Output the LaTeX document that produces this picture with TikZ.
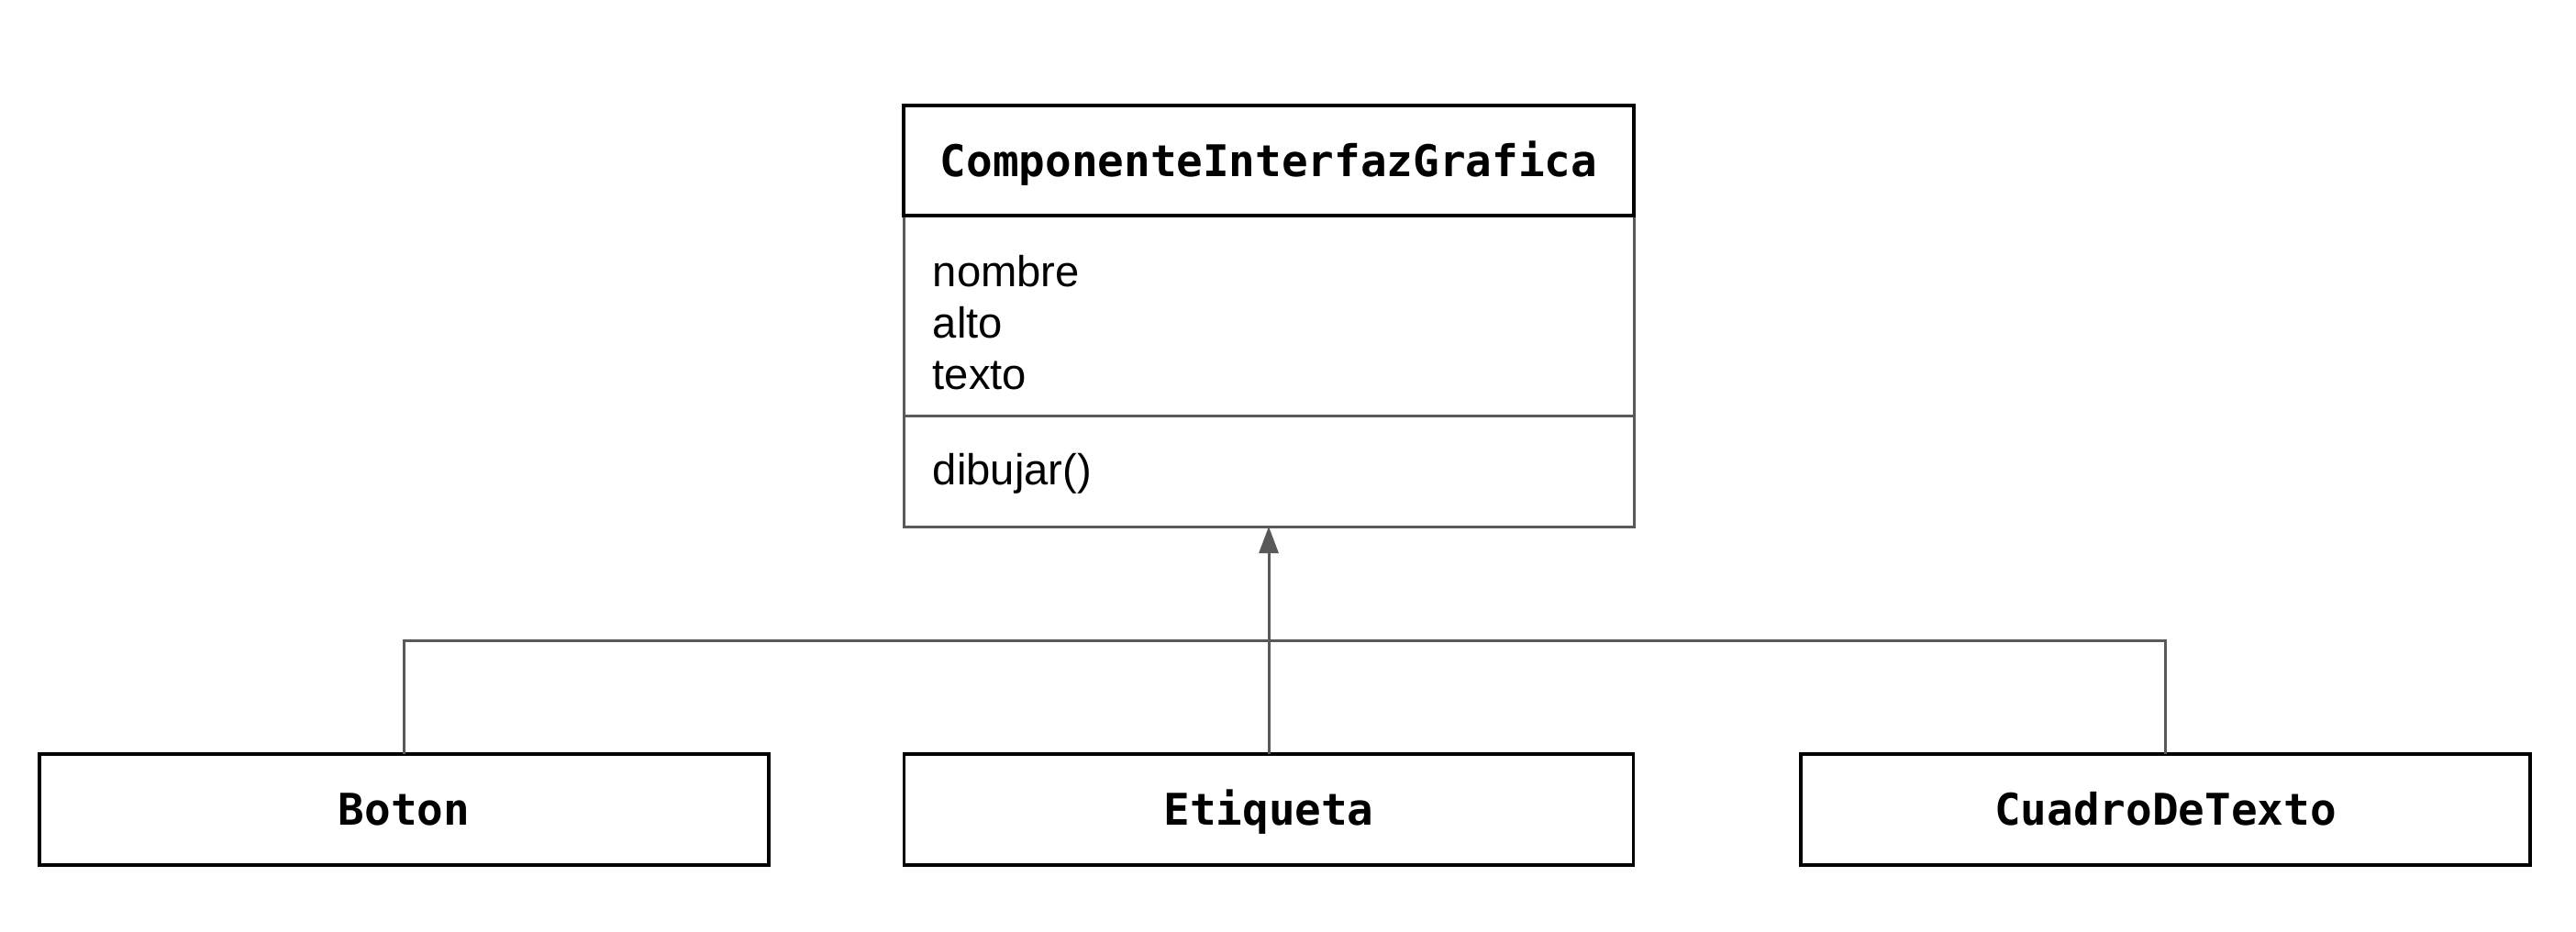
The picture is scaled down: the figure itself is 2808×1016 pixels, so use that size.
\documentclass[tikz,border=0pt]{standalone}
\usepackage{fontspec}
\setmainfont{Liberation Sans}
\newfontfamily\umlmono{DejaVu Sans Mono}
\usetikzlibrary{arrows.meta}
\definecolor{linegray}{HTML}{595959}
\tikzset{
  hdrbox/.style={draw=black, line width=0.8pt, inner sep=0pt, outer sep=0pt, minimum width=199pt,
    minimum height=30pt, text height=8.6pt, text depth=0pt,
    font=\umlmono\bfseries\fontsize{11.9pt}{14pt}\selectfont},
  compbox/.style={draw=linegray, line width=0.75pt, inner sep=0pt, outer sep=0pt, minimum width=199pt},
  subbox/.style={draw=black, line width=0.8pt, inner sep=0pt, outer sep=0pt, minimum width=198.75pt,
    minimum height=30.25pt, text height=8.6pt, text depth=0pt,
    font=\umlmono\bfseries\fontsize{11.9pt}{14pt}\selectfont},
  member/.style={anchor=base west, inner sep=0pt, font=\fontsize{11.8pt}{14pt}\selectfont},
  conn/.style={draw=linegray, line width=0.75pt},
}
\begin{document}
\begin{tikzpicture}[x=0.25pt,y=-0.25pt]
\useasboundingbox (0,0) rectangle (2808,1016);
% class compartments
\node[compbox, minimum height=54.5pt, anchor=north] (attrs) at (1383,235) {};
\node[compbox, minimum height=30.25pt, anchor=north] (meths) at (attrs.south) {};
\node[hdrbox] (cls) at (1383,175) {ComponenteInterfazGrafica};
\node[member] (a1) at (1016,312) {nombre};
\node[member] (a2) at (1016,368.5) {alto};
\node[member] (a3) at (1016,425) {texto};
\node[member] (m1) at (1016,528) {dibujar()};
% subclasses
\node[subbox] (boton) at (440.5,882.5) {Boton};
\node[subbox] (etiq) at (1383,882.5) {Etiqueta};
\node[subbox] (cuadro) at (2360.5,882.5) {CuadroDeTexto};
% connectors
\coordinate (bus) at (1383,698);
\draw[conn] (boton.north) |- (bus) -| (cuadro.north);
\draw[conn, -{Triangle[length=7.25pt, width=5.25pt]}] (etiq.north) -- (meths.south);
\end{tikzpicture}
\end{document}
